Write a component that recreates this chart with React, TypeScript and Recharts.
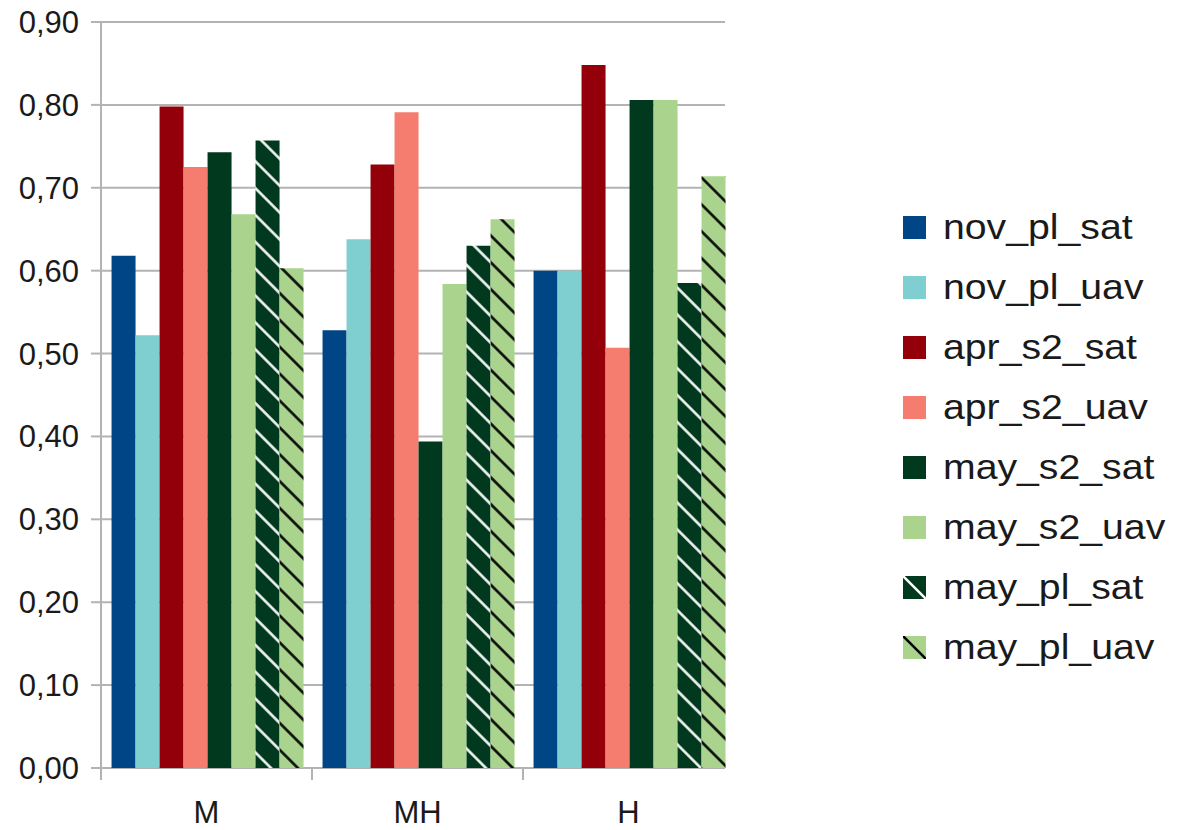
import { BarChart, Bar, XAxis, YAxis, CartesianGrid } from "recharts"

const categories = ["M", "MH", "H"]
const novPlSat = [0.618, 0.528, 0.6]
const novPlUav = [0.522, 0.638, 0.6]
const aprS2Sat = [0.798, 0.728, 0.848]
const aprS2Uav = [0.725, 0.791, 0.507]
const mayS2Sat = [0.743, 0.394, 0.806]
const mayS2Uav = [0.668, 0.584, 0.806]
const mayPlSat = [0.757, 0.63, 0.585]
const mayPlUav = [0.603, 0.662, 0.714]
const yTicks = [0, 0.1, 0.2, 0.3, 0.4, 0.5, 0.6, 0.7, 0.8, 0.9]

const W = 1186
const H = 830
const M = { top: 22, right: 452, bottom: 12, left: 11 }
const Y_W = 90
const BAND = (W - M.left - M.right - Y_W) / categories.length
// the original picture is cropped just after the last bar
const CROP_X = 725

const series = [
  { key: "nov_pl_sat", values: novPlSat, color: "#004586" },
  { key: "nov_pl_uav", values: novPlUav, color: "#7fcfd0" },
  { key: "apr_s2_sat", values: aprS2Sat, color: "#930009" },
  { key: "apr_s2_uav", values: aprS2Uav, color: "#f47d6f" },
  { key: "may_s2_sat", values: mayS2Sat, color: "#00391d" },
  { key: "may_s2_uav", values: mayS2Uav, color: "#aad48e" },
  { key: "may_pl_sat", values: mayPlSat, color: "#00391d", hatch: "#ffffff" },
  { key: "may_pl_uav", values: mayPlUav, color: "#aad48e", hatch: "#000000" },
]

const data = categories.map((name, i) => {
  const row: Record<string, string | number> = { name }
  series.forEach((s) => (row[s.key] = s.values[i]))
  return row
})

const FONT = "'Liberation Sans', Arial, sans-serif"

function XTick({ x, y, payload }: { x?: number; y?: number; payload?: { value: string } }) {
  const left = (x ?? 0) - BAND / 2
  return (
    <g>
      <line x1={left} y1={y} x2={left} y2={(y ?? 0) + 12} stroke="#b3b3b3" strokeWidth={2} />
      <text x={x} y={(y ?? 0) + 44} dy="0.355em" textAnchor="middle" fill="#1a1a1a" fontSize={31} fontFamily={FONT}>
        {payload?.value}
      </text>
    </g>
  )
}

function GridLine(p: { x1?: number; y1?: number; index?: number }) {
  return (
    <line
      key={`g-${p.index}-${p.y1}`}
      x1={p.x1}
      y1={p.y1}
      x2={CROP_X}
      y2={p.y1}
      stroke="#b3b3b3"
      strokeWidth={2}
    />
  )
}

function LegendBox() {
  return (
    <div style={{ position: "absolute", left: 903, top: 197, fontFamily: FONT, color: "#1a1a1a" }}>
      {series.map((s) => (
        <div key={s.key} style={{ display: "flex", alignItems: "center", height: 60 }}>
          <svg width={23} height={23} style={{ marginRight: 17 }}>
            <rect width={23} height={23} fill={s.color} />
            {s.hatch && <line x1={0} y1={0} x2={23} y2={23} stroke={s.hatch} strokeWidth={2.5} />}
          </svg>
          <span
            style={{
              display: "inline-block",
              fontSize: 35,
              lineHeight: "40px",
              transform: "scaleX(1.12)",
              transformOrigin: "left center",
              whiteSpace: "nowrap",
            }}
          >
            {s.key}
          </span>
        </div>
      ))}
    </div>
  )
}

export default function App() {
  return (
    <div style={{ position: "absolute", left: 0, top: 0, width: W, height: H, background: "#fff" }}>
      <BarChart width={W} height={H} data={data} margin={M} barCategoryGap="5%" barGap={0}>
        <defs>
          {series
            .filter((s) => s.hatch)
            .map((s) => (
              <pattern
                key={s.key}
                id={`hatch-${s.key}`}
                width={19}
                height={19}
                patternUnits="userSpaceOnUse"
                patternTransform="rotate(45)"
              >
                <rect width={19} height={19} fill={s.color} />
                <line x1={0} y1={9.5} x2={19} y2={9.5} stroke={s.hatch} strokeWidth={2.5} />
              </pattern>
            ))}
          <clipPath id="crop">
            <rect x={0} y={0} width={CROP_X} height={H} />
          </clipPath>
        </defs>
        <CartesianGrid vertical={false} horizontal={GridLine} />
        <XAxis
          dataKey="name"
          height={50}
          axisLine={false}
          tickLine={false}
          tickSize={0}
          tickMargin={0}
          tick={<XTick />}
          interval={0}
        />
        <YAxis
          width={Y_W}
          domain={[0, 0.9]}
          ticks={yTicks}
          interval={0}
          axisLine={{ stroke: "#b3b3b3", strokeWidth: 2 }}
          tickLine={{ stroke: "#b3b3b3", strokeWidth: 2 }}
          tickSize={10}
          tickMargin={12}
          tick={{ fill: "#1a1a1a", fontSize: 31, fontFamily: FONT }}
          tickFormatter={(v: number) => v.toFixed(2).replace(".", ",")}
        />
        {series.map((s) => (
          <Bar
            key={s.key}
            dataKey={s.key}
            fill={s.hatch ? `url(#hatch-${s.key})` : s.color}
            isAnimationActive={false}
          />
        ))}
      </BarChart>
      <LegendBox />
    </div>
  )
}
